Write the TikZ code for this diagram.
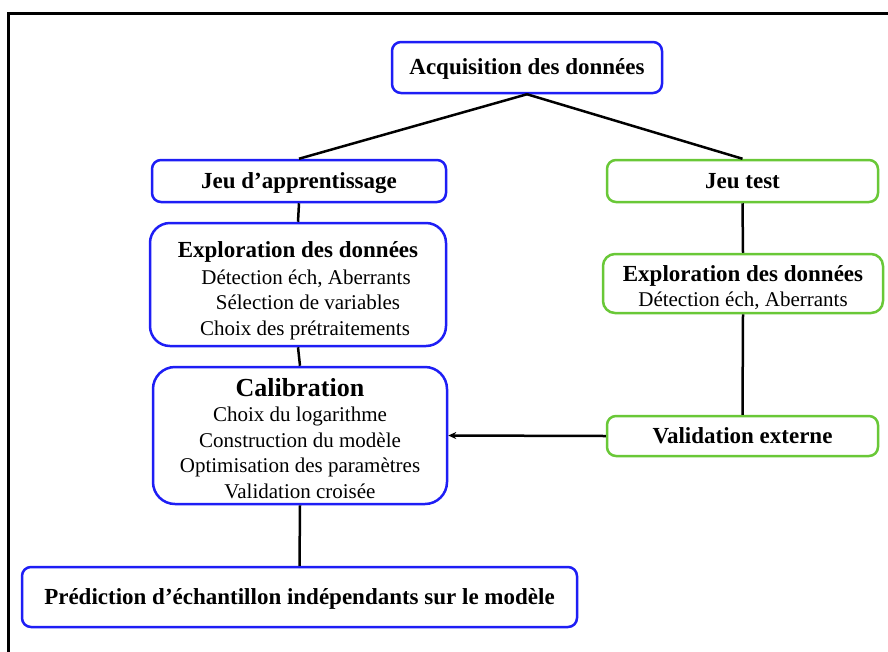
\documentclass[tikz,border=0pt]{standalone}
\usepackage{fontspec}
\setmainfont{Liberation Serif}
\usetikzlibrary{arrows.meta}
\definecolor{boxblue}{RGB}{30,30,245}
\definecolor{boxgreen}{RGB}{105,200,55}
\begin{document}
\begin{tikzpicture}[x=1pt,y=-1pt,
  basebox/.style={line width=2.5pt, rounded corners=9pt, inner sep=0pt, align=center,
    font=\fontsize{21}{25.5}\selectfont},
  bluebox/.style={basebox, draw=boxblue},
  greenbox/.style={basebox, draw=boxgreen},
  titlefont/.style={font=\fontsize{23}{27}\selectfont\bfseries, text depth=1pt},
  link/.style={draw=black, line width=2.5pt},
  frameline/.style={draw=black, line width=3pt}]
\useasboundingbox (0,0) rectangle (888,651);
\fill[white] (0,0) rectangle (888,651);
% outer frame (only the left and top sides are visible)
\coordinate (fbl) at (8,660);
\coordinate (ftl) at (8,13);
\coordinate (ftr) at (895,13);
\draw[frameline] (fbl) -- (ftl) -- (ftr);

\node[bluebox, titlefont, minimum width=270pt, minimum height=51pt] (acq) at (527,67.5) {Acquisition des données};
\node[bluebox, titlefont, minimum width=294pt, minimum height=42pt] (app) at (299,181) {Jeu d’apprentissage};
\node[greenbox, titlefont, minimum width=271pt, minimum height=42pt] (test) at (742.5,181) {Jeu test};
\node[bluebox, rounded corners=20pt, minimum width=296pt, minimum height=123pt] (explL) at (298,284.5)
  {\rule{0pt}{28pt}{\fontsize{23}{27}\selectfont\bfseries Exploration des données}\\[1pt]
   \hspace*{16pt}Détection éch, Aberrants\\
   \hspace*{20pt}Sélection de variables\\
   \hspace*{14pt}Choix des prétraitements};
\node[greenbox, rounded corners=12pt, minimum width=280pt, minimum height=59pt] (explR) at (743,283.5)
  {\rule{0pt}{24pt}{\fontsize{23}{27}\selectfont\bfseries Exploration des données}\\
   Détection éch, Aberrants};
\node[greenbox, titlefont, minimum width=271pt, minimum height=40pt] (val) at (742.5,436) {Validation externe};
\node[bluebox, rounded corners=22pt, minimum width=294pt, minimum height=137pt] (calib) at (300,435.5)
  {\rule{0pt}{24pt}{\fontsize{26}{28}\selectfont\bfseries Calibration}\\
   Choix du logarithme\\
   Construction du modèle\\
   Optimisation des paramètres\\
   Validation croisée};
\node[bluebox, titlefont, minimum width=555pt, minimum height=60pt] (pred) at (299.5,597) {Prédiction d’échantillon indépendants sur le modèle};

\draw[link] (acq.south) -- (app.north);
\draw[link] (acq.south) -- (test.north);
\draw[link] (app.south) -- (explL.north);
\draw[link] (explL.south) -- (calib.north);
\draw[link] (calib.south) -- (pred.north);
\draw[link] (test.south) -- (explR.north);
\draw[link] (explR.south) -- (val.north);
\draw[link, -{Stealth[length=8pt,width=7pt]}] (val.west) -- (calib.east);
\end{tikzpicture}
\end{document}
